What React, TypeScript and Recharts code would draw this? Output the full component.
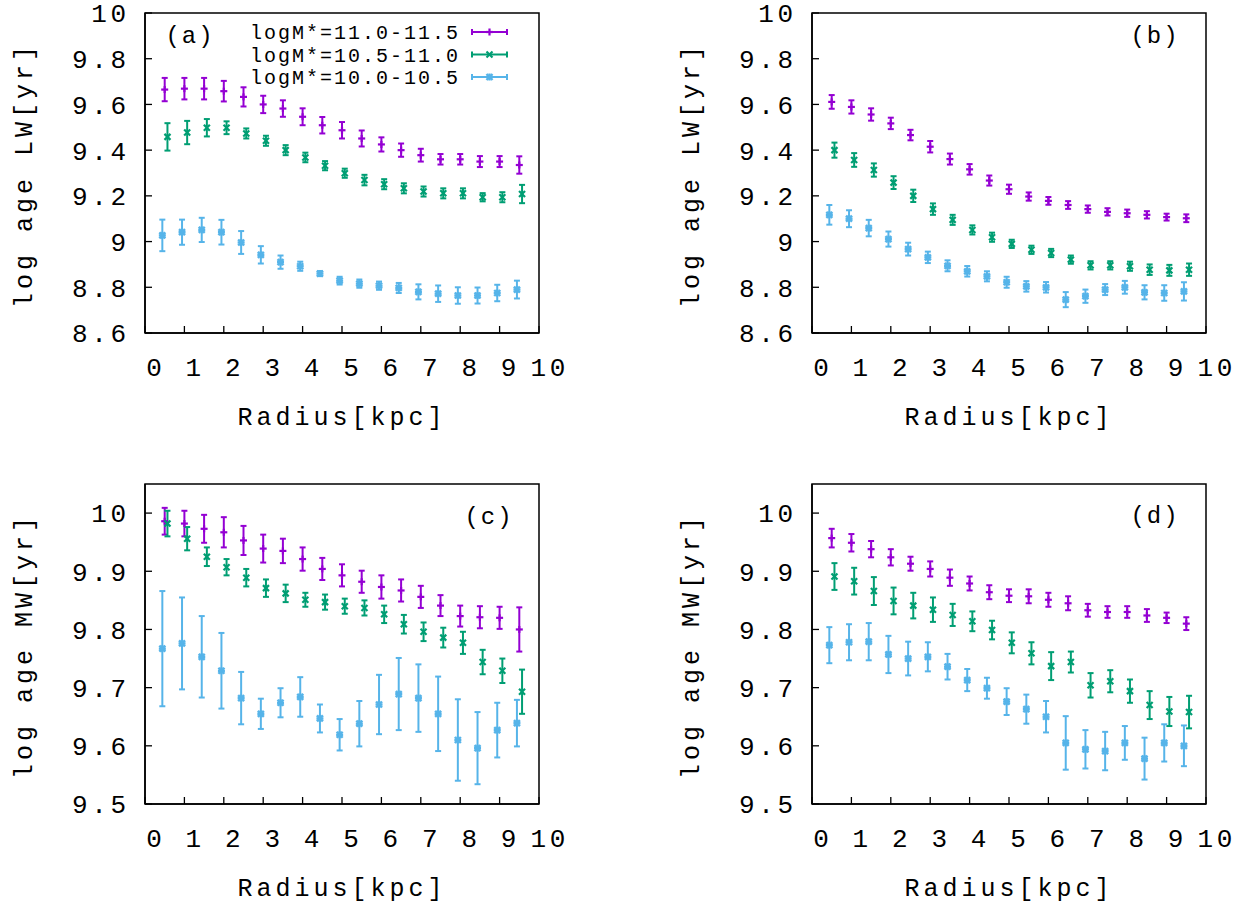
import { ScatterChart, Scatter, XAxis, YAxis, ErrorBar, Legend, ReferenceArea } from 'recharts';

// radii of the bins (kpc); each mass bin is offset a little
const radiusHigh = [0.5, 1.0, 1.5, 2.0, 2.5, 3.0, 3.5, 4.0, 4.5, 5.0, 5.5, 6.0, 6.5, 7.0, 7.5, 8.0, 8.5, 9.0, 9.5];
const radiusMid = [0.57, 1.07, 1.57, 2.07, 2.57, 3.07, 3.57, 4.07, 4.57, 5.07, 5.57, 6.07, 6.57, 7.07, 7.57, 8.07, 8.57, 9.07, 9.57];
const radiusLow = [0.44, 0.94, 1.44, 1.94, 2.44, 2.94, 3.44, 3.94, 4.44, 4.94, 5.44, 5.94, 6.44, 6.94, 7.44, 7.94, 8.44, 8.94, 9.44];

const seriesNames = ['logM*=11.0-11.5', 'logM*=10.5-11.0', 'logM*=10.0-10.5'];
const seriesColors = ['#9400d3', '#009e73', '#56b4e9'];

const xTicks = [0, 1, 2, 3, 4, 5, 6, 7, 8, 9, 10];
const lwTicks = [8.6, 8.8, 9, 9.2, 9.4, 9.6, 9.8, 10];
const mwTicks = [9.5, 9.6, 9.7, 9.8, 9.9, 10];

// (a) light-weighted age
const aHigh = [9.665, 9.669, 9.669, 9.658, 9.633, 9.6, 9.582, 9.546, 9.509, 9.487, 9.451, 9.425, 9.4, 9.378, 9.36, 9.36, 9.35, 9.35, 9.335];
const aHighErr = [0.051, 0.047, 0.047, 0.045, 0.042, 0.038, 0.036, 0.037, 0.036, 0.036, 0.035, 0.031, 0.029, 0.028, 0.023, 0.023, 0.024, 0.024, 0.038];
const aMid = [9.458, 9.477, 9.498, 9.498, 9.473, 9.441, 9.4, 9.368, 9.332, 9.299, 9.269, 9.251, 9.233, 9.219, 9.211, 9.211, 9.194, 9.194, 9.208];
const aMidErr = [0.06, 0.051, 0.038, 0.028, 0.022, 0.022, 0.022, 0.021, 0.02, 0.02, 0.023, 0.022, 0.022, 0.022, 0.022, 0.022, 0.018, 0.022, 0.04];
const aLow = [9.027, 9.041, 9.051, 9.041, 8.996, 8.942, 8.91, 8.892, 8.86, 8.829, 8.816, 8.807, 8.797, 8.78, 8.772, 8.764, 8.764, 8.775, 8.79];
const aLowErr = [0.069, 0.055, 0.053, 0.054, 0.05, 0.038, 0.029, 0.02, 0.011, 0.017, 0.018, 0.018, 0.022, 0.033, 0.036, 0.036, 0.035, 0.036, 0.039];

// (b)
const bHigh = [9.611, 9.589, 9.556, 9.517, 9.466, 9.415, 9.361, 9.316, 9.267, 9.229, 9.197, 9.178, 9.16, 9.142, 9.13, 9.124, 9.117, 9.107, 9.102];
const bHighErr = [0.03, 0.029, 0.027, 0.025, 0.023, 0.025, 0.024, 0.023, 0.022, 0.02, 0.018, 0.017, 0.017, 0.016, 0.016, 0.016, 0.016, 0.015, 0.017];
const bMid = [9.4, 9.357, 9.313, 9.258, 9.2, 9.142, 9.095, 9.051, 9.019, 8.99, 8.964, 8.95, 8.921, 8.896, 8.896, 8.892, 8.877, 8.874, 8.877];
const bMidErr = [0.033, 0.03, 0.029, 0.028, 0.027, 0.025, 0.022, 0.02, 0.02, 0.018, 0.018, 0.018, 0.018, 0.018, 0.018, 0.02, 0.023, 0.024, 0.027];
const bLow = [9.117, 9.1, 9.059, 9.011, 8.967, 8.931, 8.894, 8.87, 8.848, 8.822, 8.804, 8.8, 8.746, 8.761, 8.79, 8.8, 8.778, 8.775, 8.782];
const bLowErr = [0.043, 0.037, 0.036, 0.033, 0.028, 0.025, 0.024, 0.023, 0.022, 0.024, 0.023, 0.023, 0.033, 0.029, 0.024, 0.028, 0.031, 0.034, 0.04];

// (c) mass-weighted age
const cHigh = [9.986, 9.982, 9.973, 9.967, 9.953, 9.939, 9.935, 9.921, 9.904, 9.893, 9.882, 9.873, 9.867, 9.856, 9.841, 9.823, 9.821, 9.82, 9.8];
const cHighErr = [0.023, 0.022, 0.024, 0.026, 0.025, 0.024, 0.021, 0.02, 0.019, 0.019, 0.019, 0.02, 0.019, 0.019, 0.018, 0.018, 0.019, 0.019, 0.038];
const cMid = [9.982, 9.956, 9.925, 9.907, 9.889, 9.871, 9.862, 9.851, 9.847, 9.84, 9.837, 9.826, 9.809, 9.796, 9.786, 9.777, 9.744, 9.729, 9.693];
const cMidErr = [0.022, 0.02, 0.016, 0.014, 0.015, 0.015, 0.015, 0.012, 0.013, 0.013, 0.013, 0.015, 0.016, 0.016, 0.017, 0.019, 0.021, 0.021, 0.038];
const cLow = [9.767, 9.776, 9.753, 9.729, 9.682, 9.655, 9.674, 9.684, 9.647, 9.619, 9.638, 9.671, 9.689, 9.682, 9.655, 9.61, 9.596, 9.627, 9.639];
const cLowErr = [0.099, 0.079, 0.07, 0.065, 0.045, 0.026, 0.025, 0.034, 0.024, 0.027, 0.039, 0.051, 0.062, 0.058, 0.064, 0.07, 0.062, 0.047, 0.04];

// (d)
const dHigh = [9.957, 9.949, 9.938, 9.924, 9.913, 9.904, 9.889, 9.879, 9.864, 9.858, 9.857, 9.851, 9.845, 9.833, 9.83, 9.83, 9.824, 9.82, 9.81];
const dHighErr = [0.016, 0.015, 0.014, 0.014, 0.012, 0.013, 0.014, 0.012, 0.012, 0.011, 0.012, 0.012, 0.012, 0.011, 0.01, 0.01, 0.011, 0.009, 0.011];
const dMid = [9.891, 9.883, 9.866, 9.849, 9.841, 9.834, 9.825, 9.814, 9.799, 9.777, 9.759, 9.737, 9.744, 9.704, 9.711, 9.694, 9.67, 9.659, 9.658];
const dMidErr = [0.023, 0.023, 0.024, 0.023, 0.022, 0.021, 0.019, 0.017, 0.016, 0.018, 0.019, 0.024, 0.018, 0.021, 0.019, 0.02, 0.024, 0.025, 0.028];
const dLow = [9.773, 9.778, 9.779, 9.757, 9.75, 9.753, 9.736, 9.713, 9.699, 9.676, 9.663, 9.65, 9.605, 9.594, 9.591, 9.605, 9.578, 9.605, 9.6];
const dLowErr = [0.031, 0.031, 0.032, 0.032, 0.029, 0.025, 0.022, 0.019, 0.018, 0.023, 0.025, 0.027, 0.046, 0.033, 0.033, 0.029, 0.036, 0.032, 0.035];

const FONT = "'Liberation Mono', 'Courier New', monospace";

const toPoints = (xs: number[], ys: number[], errs: number[]) =>
  xs.map((x, i) => ({ x, y: ys[i], err: errs[i] }));

function Marker({ cx, cy, kind, color }: any) {
  if (cx == null || cy == null) return null;
  const s = 3.5;
  if (kind === 0) {
    return (
      <g stroke={color} strokeWidth={2.2}>
        <line x1={cx - s} x2={cx + s} y1={cy} y2={cy} />
        <line x1={cx} x2={cx} y1={cy - s} y2={cy + s} />
      </g>
    );
  }
  if (kind === 1) {
    return (
      <g stroke={color} strokeWidth={2.2}>
        <line x1={cx - 3} x2={cx + 3} y1={cy - 3} y2={cy + 3} />
        <line x1={cx - 3} x2={cx + 3} y1={cy + 3} y2={cy - 3} />
      </g>
    );
  }
  return (
    <g stroke={color} strokeWidth={2.4}>
      <line x1={cx - s} x2={cx + s} y1={cy} y2={cy} />
      <line x1={cx} x2={cx} y1={cy - s} y2={cy + s} />
      <line x1={cx - 3} x2={cx + 3} y1={cy - 3} y2={cy + 3} />
      <line x1={cx - 3} x2={cx + 3} y1={cy + 3} y2={cy - 3} />
    </g>
  );
}

const TICK = 7;
const SPACING = 4;
const TICK_SPACING = 3.6;
const numFmt = (v: number) => String(v);

function LeftTick(props: any) {
  const { x, y, payload } = props;
  return (
    <g>
      <path d={`M${x},${y}h${TICK}`} stroke="#000" strokeWidth={1.3} fill="none" />
      <text x={x - 19 + TICK_SPACING} y={y} dy="0.36em" textAnchor="end" fontFamily={FONT} fontSize={26} fill="#000" style={{ letterSpacing: TICK_SPACING }}>
        {numFmt(payload.value)}
      </text>
    </g>
  );
}

function RightTick({ x, y }: any) {
  return <path d={`M${x},${y}h${-TICK}`} stroke="#000" strokeWidth={1.3} fill="none" />;
}

function BottomTick({ x, y, payload }: any) {
  return (
    <g>
      <path d={`M${x},${y}v${-TICK}`} stroke="#000" strokeWidth={1.3} fill="none" />
      <text x={x + 9 + TICK_SPACING / 2} y={y + 34} dy="0.36em" textAnchor="middle" fontFamily={FONT} fontSize={26} fill="#000" style={{ letterSpacing: TICK_SPACING }}>
        {numFmt(payload.value)}
      </text>
    </g>
  );
}

function TopTick({ x, y }: any) {
  return <path d={`M${x},${y}v${TICK}`} stroke="#000" strokeWidth={1.3} fill="none" />;
}

function XTitle({ viewBox }: any) {
  const { x, y, width } = viewBox;
  return (
    <text x={x + width / 2} y={y + 83} dy="0.36em" textAnchor="middle" fontFamily={FONT} fontSize={25} fill="#000" style={{ letterSpacing: SPACING }}>
      Radius[kpc]
    </text>
  );
}

function YTitle({ viewBox, value }: any) {
  const { x, y, height } = viewBox;
  const cx = x + 23;
  const cy = y + height / 2 + 2;
  return (
    <text x={cx} y={cy} dy="0.36em" textAnchor="middle" fontFamily={FONT} fontSize={25} fill="#000" transform={`rotate(-90 ${cx} ${cy})`} style={{ letterSpacing: SPACING }}>
      {value}
    </text>
  );
}

function KeyContent() {
  return (
    <svg width={290} height={75} style={{ overflow: 'visible', display: 'block' }}>
      {seriesNames.map((name, i) => {
        const cy = 12 + i * 22.5;
        const color = seriesColors[i];
        return (
          <g key={name}>
            <text x={218 + 2} y={cy} dy="0.36em" textAnchor="end" fontFamily={FONT} fontSize={20} fill="#000" style={{ letterSpacing: 2 }}>
              {name}
            </text>
            <g stroke={color} strokeWidth={2}>
              <line x1={232} x2={267} y1={cy} y2={cy} />
              <line x1={232} x2={232} y1={cy - 3} y2={cy + 3} />
              <line x1={267} x2={267} y1={cy - 3} y2={cy + 3} />
            </g>
            <Marker cx={249.5} cy={cy} kind={i} color={color} />
          </g>
        );
      })}
    </svg>
  );
}

type PanelProps = {
  left: number;
  top: number;
  tag: string;
  tagX: number;
  tagY: number;
  yTitle: string;
  yDomain: [number, number];
  yTicks: number[];
  high: number[];
  highErr: number[];
  mid: number[];
  midErr: number[];
  low: number[];
  lowErr: number[];
  showKey?: boolean;
};

function Panel(props: PanelProps) {
  const series = [
    toPoints(radiusHigh, props.high, props.highErr),
    toPoints(radiusMid, props.mid, props.midErr),
    toPoints(radiusLow, props.low, props.lowErr),
  ];
  return (
    <div style={{ position: 'absolute', left: props.left, top: props.top, width: 580, height: 433 }}>
      <ScatterChart width={580} height={433} margin={{ top: 13, right: 41, bottom: 0, left: 0 }}>
        <ReferenceArea
          x1={0}
          x2={10}
          y1={props.yDomain[0]}
          y2={props.yDomain[1]}
          fill="none"
          stroke="#000"
          strokeWidth={1.5}
          ifOverflow="visible"
        />
        <XAxis
          type="number"
          dataKey="x"
          domain={[0, 10]}
          ticks={xTicks}
          interval={0}
          allowDataOverflow
          height={100}
          tickSize={0}
          tickMargin={0}
          tick={<BottomTick />}
          axisLine={{ stroke: '#000', strokeWidth: 1.5 }}
          label={{ content: <XTitle /> }}
        />
        <XAxis
          xAxisId="top"
          orientation="top"
          type="number"
          domain={[0, 10]}
          ticks={xTicks}
          interval={0}
          allowDataOverflow
          height={0}
          tickSize={0}
          tickMargin={0}
          tick={<TopTick />}
          axisLine={{ stroke: '#000', strokeWidth: 1.5 }}
        />
        <YAxis
          type="number"
          dataKey="y"
          domain={props.yDomain}
          ticks={props.yTicks}
          interval={0}
          allowDataOverflow
          width={145}
          tickSize={0}
          tickMargin={0}
          tick={<LeftTick />}
          axisLine={{ stroke: '#000', strokeWidth: 1.5 }}
          label={{ value: props.yTitle, content: <YTitle value={props.yTitle} /> }}
        />
        <YAxis
          yAxisId="right"
          orientation="right"
          type="number"
          domain={props.yDomain}
          ticks={props.yTicks}
          interval={0}
          allowDataOverflow
          width={0}
          tickSize={0}
          tickMargin={0}
          tick={<RightTick />}
          axisLine={{ stroke: '#000', strokeWidth: 1.5 }}
        />
        {series.map((data, i) => (
          <Scatter
            key={seriesNames[i]}
            name={seriesNames[i]}
            data={data}
            fill={seriesColors[i]}
            isAnimationActive={false}
            shape={(p: any) => <Marker cx={p.cx} cy={p.cy} kind={i} color={seriesColors[i]} />}
          >
            <ErrorBar dataKey="err" direction="y" width={3} stroke={seriesColors[i]} strokeWidth={2} isAnimationActive={false} />
          </Scatter>
        ))}
        {props.showKey && (
          <Legend
            layout="horizontal"
            verticalAlign="middle"
            align="center"
            content={<KeyContent />}
            wrapperStyle={{ position: 'absolute', left: 240, top: 20, width: 290, height: 75 }}
          />
        )}
      </ScatterChart>
      <div
        style={{
          position: 'absolute',
          left: props.tagX - 40,
          top: props.tagY - 15,
          width: 80,
          height: 30,
          lineHeight: '30px',
          textAlign: 'center',
          fontFamily: FONT,
          fontSize: 24,
          letterSpacing: 2,
          color: '#000',
        }}
      >
        {props.tag}
      </div>
    </div>
  );
}

export default function App() {
  return (
    <div style={{ position: 'absolute', left: 0, top: 0, width: 1244, height: 903, background: '#fff', overflow: 'hidden' }}>
      <Panel left={0} top={0} tag="(a)" tagX={190} tagY={37} yTitle="log age LW[yr]" yDomain={[8.6, 10]} yTicks={lwTicks}
        high={aHigh} highErr={aHighErr} mid={aMid} midErr={aMidErr} low={aLow} lowErr={aLowErr} showKey />
      <Panel left={667} top={0} tag="(b)" tagX={488} tagY={37} yTitle="log age LW[yr]" yDomain={[8.6, 10]} yTicks={lwTicks}
        high={bHigh} highErr={bHighErr} mid={bMid} midErr={bMidErr} low={bLow} lowErr={bLowErr} />
      <Panel left={0} top={471} tag="(c)" tagX={489} tagY={47} yTitle="log age MW[yr]" yDomain={[9.5, 10.05]} yTicks={mwTicks}
        high={cHigh} highErr={cHighErr} mid={cMid} midErr={cMidErr} low={cLow} lowErr={cLowErr} />
      <Panel left={667} top={471} tag="(d)" tagX={488} tagY={46} yTitle="log age MW[yr]" yDomain={[9.5, 10.05]} yTicks={mwTicks}
        high={dHigh} highErr={dHighErr} mid={dMid} midErr={dMidErr} low={dLow} lowErr={dLowErr} />
    </div>
  );
}
